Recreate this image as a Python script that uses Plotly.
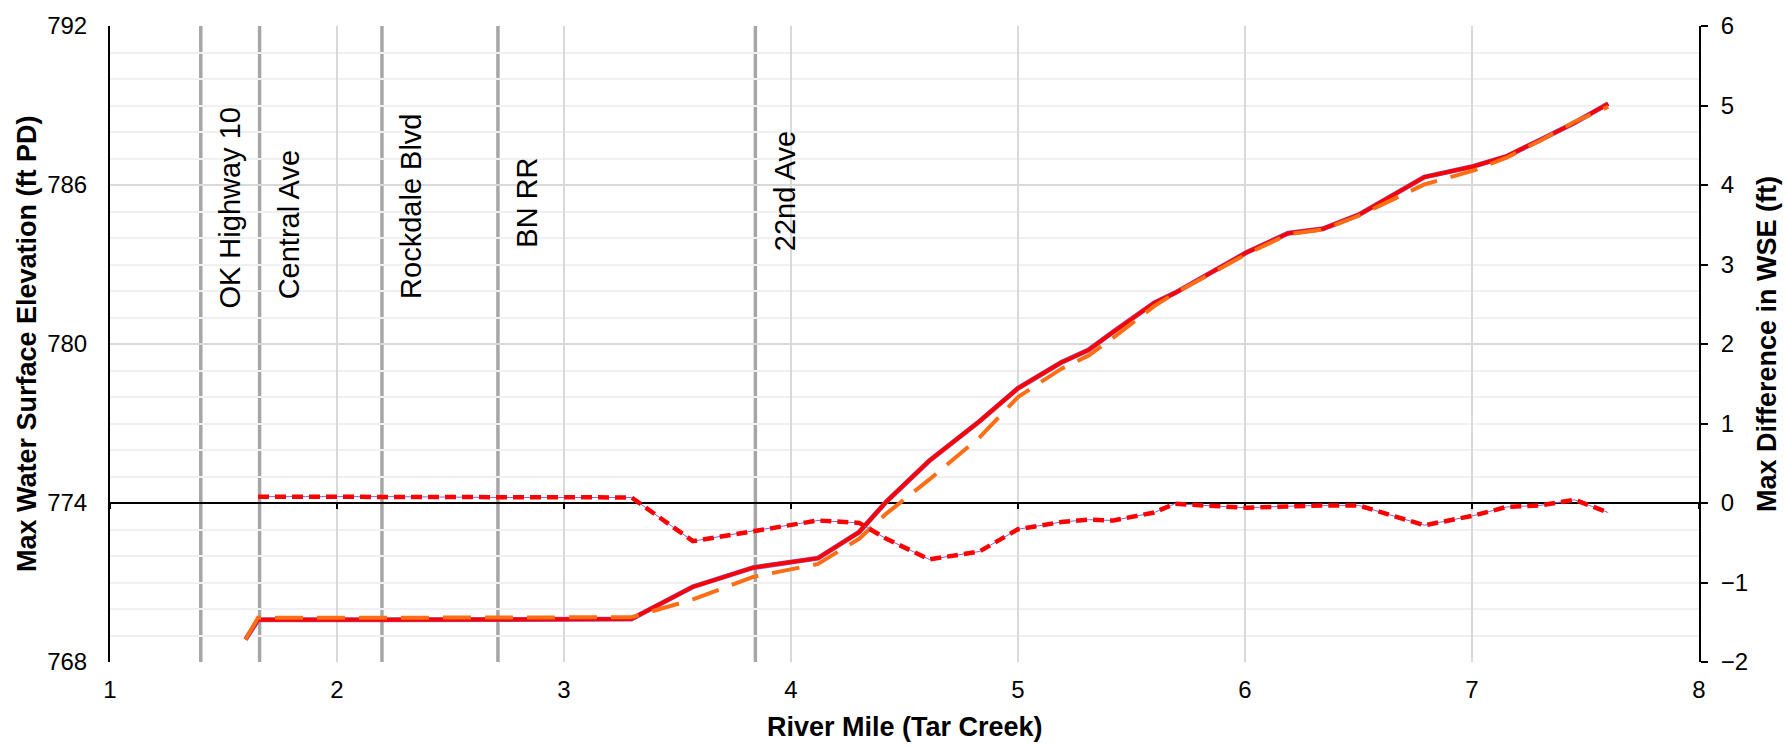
import plotly.graph_objects as go

# ---------------- data ----------------
river_mile = [1.597, 1.652, 2.20, 2.71, 3.297, 3.568, 3.833, 4.119, 4.30, 4.42, 4.61, 4.83,
              5.00, 5.19, 5.31, 5.42, 5.60, 5.69, 6.006, 6.19, 6.344, 6.50, 6.79, 7.005,
              7.152, 7.30, 7.452, 7.60]
wse_existing = [768.85, 769.59, 769.59, 769.60, 769.62, 770.84, 771.56, 771.92, 772.90, 774.05,
                775.60, 777.08, 778.33, 779.30, 779.77, 780.46, 781.55, 781.92, 783.45, 784.18,
                784.35, 784.87, 786.30, 786.70, 787.08, 787.70, 788.35, 789.07]
wse_proposed = [768.85, 769.67, 769.67, 769.67, 769.69, 770.36, 771.21, 771.70, 772.65, 773.60,
                774.89, 776.47, 778.00, 779.06, 779.56, 780.24, 781.43, 781.91, 783.39, 784.14,
                784.32, 784.84, 786.02, 786.54, 787.03, 787.67, 788.39, 788.95]
wse_difference = [None, 0.08, 0.08, 0.07, 0.07, -0.48, -0.35, -0.22, -0.25, -0.45, -0.71, -0.61,
                  -0.33, -0.24, -0.21, -0.22, -0.12, -0.01, -0.06, -0.04, -0.03, -0.03, -0.28,
                  -0.16, -0.05, -0.03, 0.04, -0.12]

bridge_names = ["OK Highway 10", "Central Ave", "Rockdale Blvd", "BN RR", "22nd Ave"]
bridge_miles = [1.40, 1.659, 2.198, 2.709, 3.843]
bridge_label_elev = [785.14, 784.50, 785.21, 785.33, 785.78]

x_ticks = [1, 2, 3, 4, 5, 6, 7, 8]
left_ticks = [768, 774, 780, 786, 792]
right_ticks = [-2, -1, 0, 1, 2, 3, 4, 5, 6]

FONT = "Liberation Sans, Arial, sans-serif"
RED = "#FF0000"
ORANGE = "#FF6D14"
PURPLE = "#7B68D8"

fig = go.Figure()

# under-lines (thin purple series drawn beneath the red ones)
fig.add_trace(go.Scatter(x=river_mile, y=wse_existing, mode="lines",
                         line=dict(color=PURPLE, width=5), hoverinfo="skip",
                         xaxis="x", yaxis="y"))
fig.add_trace(go.Scatter(x=river_mile, y=wse_existing, mode="lines",
                         line=dict(color=RED, width=4), name="Existing WSE",
                         xaxis="x", yaxis="y"))
fig.add_trace(go.Scatter(x=river_mile, y=wse_proposed, mode="lines",
                         line=dict(color=ORANGE, width=4, dash="28px,14px"),
                         name="Proposed WSE", xaxis="x", yaxis="y"))
fig.add_trace(go.Scatter(x=river_mile, y=wse_difference, mode="lines",
                         line=dict(color=PURPLE, width=1), hoverinfo="skip",
                         xaxis="x2", yaxis="y2"))
fig.add_trace(go.Scatter(x=river_mile, y=wse_difference, mode="lines",
                         line=dict(color=RED, width=4.5, dash="11px,6px"),
                         name="Difference", xaxis="x2", yaxis="y2"))

# bridge lines and labels
for name, mile, elev in zip(bridge_names, bridge_miles, bridge_label_elev):
    fig.add_shape(type="line", xref="x", yref="paper", x0=mile, x1=mile, y0=0, y1=1,
                  line=dict(color="#A6A6A6", width=3.5), layer="between")
    fig.add_annotation(x=mile, y=elev, xref="x", yref="y", text=name, textangle=-90,
                       showarrow=False, xanchor="center", yanchor="middle", xshift=29,
                       font=dict(family=FONT, size=29, color="black"))

# axis titles
fig.add_annotation(x=-0.0522, y=0.5, xref="paper", yref="paper",
                   text="<b>Max Water Surface Elevation (ft PD)</b>", textangle=-90,
                   showarrow=False, xanchor="center", yanchor="middle",
                   font=dict(family=FONT, size=27, color="black"))
fig.add_annotation(x=1.0428, y=0.5, xref="paper", yref="paper",
                   text="<b>Max Difference in WSE (ft)</b>", textangle=-90,
                   showarrow=False, xanchor="center", yanchor="middle",
                   font=dict(family=FONT, size=27, color="black"))
fig.add_annotation(x=0.5, y=-0.102, xref="paper", yref="paper",
                   text="<b>River Mile (Tar Creek)</b>",
                   showarrow=False, xanchor="center", yanchor="middle",
                   font=dict(family=FONT, size=27, color="black"))

tickfont = dict(family=FONT, size=24, color="black")

fig.update_layout(
    width=1785, height=746,
    margin=dict(l=110, r=86, t=22, b=84),
    paper_bgcolor="white", plot_bgcolor="white",
    showlegend=False,
    xaxis=dict(range=[1, 8], tickvals=x_ticks, showgrid=True, gridcolor="#D9D9D9",
               gridwidth=2, showline=False, zeroline=False, ticks="",
               tickfont=tickfont, ticklabelstandoff=11),
    xaxis2=dict(range=[1, 8], tickvals=x_ticks, overlaying="x", anchor="free",
                position=0.25, side="bottom", showgrid=False, zeroline=False,
                showline=True, linecolor="black", linewidth=2, ticks="outside",
                ticklen=5, tickwidth=2, tickcolor="black", showticklabels=False,
                layer="below traces"),
    yaxis=dict(range=[768, 792], tickvals=left_ticks, showgrid=True, gridcolor="#D9D9D9",
               gridwidth=2, zeroline=False, showline=True, linecolor="black", linewidth=2,
               ticks="", tickfont=tickfont, ticklabelstandoff=16,
               minor=dict(dtick=1, showgrid=True, gridcolor="#F0F0F0", gridwidth=2)),
    yaxis2=dict(range=[-2, 6], tickvals=right_ticks, overlaying="y", side="right",
                anchor="x", showgrid=False, zeroline=False, showline=True,
                linecolor="black", linewidth=2, ticks="outside", ticklen=7, tickwidth=2,
                tickcolor="black", tickfont=tickfont, ticklabelstandoff=8),
)

fig.write_html("out.html",
               config={"displayModeBar": False},
               post_script="document.body.style.margin='0';"
                           "document.body.style.overflow='hidden';")
